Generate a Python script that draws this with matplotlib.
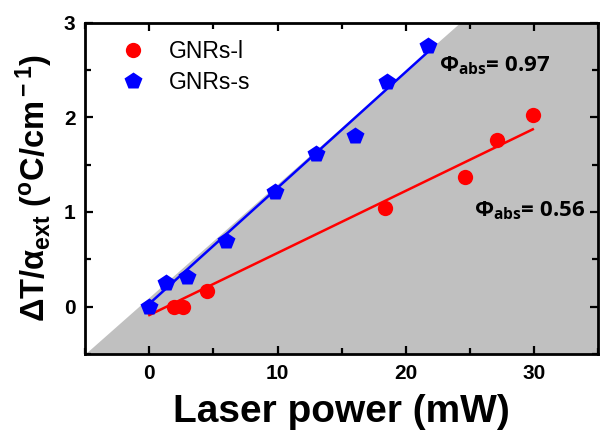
import numpy as np
import matplotlib
matplotlib.use("Agg")
import matplotlib.pyplot as plt
from matplotlib.ticker import MultipleLocator

# data
power_l = [1.9, 2.6, 4.5, 18.4, 24.6, 27.1, 29.9]
dT_l = [0.0, 0.0, 0.16, 1.04, 1.37, 1.76, 2.03]
power_s = [0.0, 1.3, 2.9, 6.0, 9.8, 13.0, 16.0, 18.5, 21.7]
dT_s = [0.0, 0.25, 0.31, 0.69, 1.21, 1.61, 1.80, 2.38, 2.76]

# linear fits (slope, intercept) and their x ranges
fit_l = (0.0657, -0.09)
fit_l_range = (0.0, 29.9)
fit_s = (0.1226, 0.03)
fit_s_range = (0.0, 21.7)

# shaded region boundary (phi = 1 line)
shade_x = [-5, 24.2, 35]
shade_top = [-0.5, 3.0, 3.0]

plt.rcParams['font.family'] = ['Liberation Sans', 'DejaVu Sans']
plt.rcParams['mathtext.fontset'] = 'custom'
plt.rcParams['mathtext.rm'] = 'Liberation Sans:bold'
plt.rcParams['mathtext.it'] = 'Liberation Sans:bold'
plt.rcParams['mathtext.bf'] = 'Liberation Sans:bold'
plt.rcParams['mathtext.sf'] = 'Open Sans:bold'

fig = plt.figure(figsize=(6, 4.32), dpi=100)
ax = fig.add_axes([0.142, 0.181, 0.855, 0.766])

ax.fill_between(shade_x, -0.5, shade_top, color='#c0c0c0', lw=0, zorder=0)

xs = np.array(fit_l_range)
ax.plot(xs, fit_l[0] * xs + fit_l[1], color='#ff0000', lw=1.8, zorder=2)
xs = np.array(fit_s_range)
ax.plot(xs, fit_s[0] * xs + fit_s[1], color='#0000ff', lw=1.8, zorder=2)

ax.plot(power_l, dT_l, 'o', color='#ff0000', ms=11, mec='none', label='GNRs-l', zorder=3)
ax.plot(power_s, dT_s, 'p', color='#0000ff', ms=13, mec='none', label='GNRs-s', zorder=3)

ax.set_xlim(-5, 35)
ax.set_ylim(-0.5, 3)
ax.xaxis.set_major_locator(MultipleLocator(10))
ax.xaxis.set_minor_locator(MultipleLocator(5))
ax.yaxis.set_major_locator(MultipleLocator(1))
ax.yaxis.set_minor_locator(MultipleLocator(0.5))
ax.tick_params(which='both', direction='in', top=True, right=True, width=1.6)
ax.tick_params(which='major', length=6, labelsize=15, pad=7)
ax.tick_params(which='minor', length=4)
for lab in ax.get_xticklabels() + ax.get_yticklabels():
    lab.set_fontweight('bold')
for sp in ax.spines.values():
    sp.set_linewidth(2)

ax.set_xlabel('Laser power (mW)', fontsize=28, fontweight='bold', labelpad=8)
ax.set_ylabel('ΔT/α$_{\\rm ext}$ ($^{\\rm o}$C/cm$^{\\rm -1}$)', fontsize=23.5,
              fontweight='bold', labelpad=6)

ax.legend(loc='upper left', frameon=False, fontsize=16.5, handletextpad=0.6,
          borderaxespad=0.0, bbox_to_anchor=(0.03, 0.975), labelspacing=0.35)

ax.text(22.6, 2.49, '$\\mathsf{\\Phi_{abs}}$= 0.97', fontsize=16, fontweight='bold',
        family='Open Sans')
ax.text(25.3, 0.95, '$\\mathsf{\\Phi_{abs}}$= 0.56', fontsize=16, fontweight='bold',
        family='Open Sans')

fig.savefig('out.png', dpi=100)
